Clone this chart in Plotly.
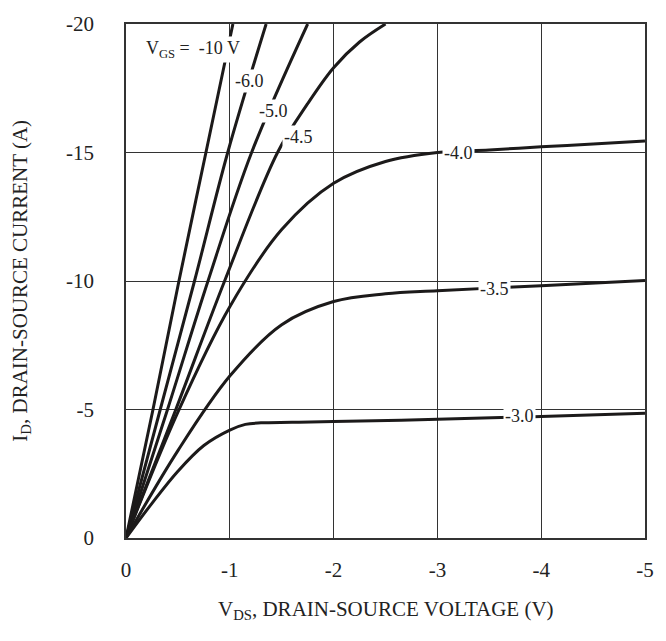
import plotly.graph_objects as go

# ---- data (V_DS in volts, I_D in amps) ----
vgs_labels = ["-10 V", "-6.0", "-5.0", "-4.5", "-4.0", "-3.5", "-3.0"]

v_m10 = [0, -0.26, -0.51, -0.77, -1.03]
i_m10 = [0, -5, -10, -15, -20]

v_m6 = [0, -0.33, -0.66, -0.98, -1.35]
i_m6 = [0, -5, -10, -15, -20]

v_m5 = [0, -0.40, -0.79, -1.21, -1.75]
i_m5 = [0, -5, -10, -15, -20]

v_m45 = [0, -0.48, -0.95, -1.46, -1.75, -2.0, -2.25, -2.5]
i_m45 = [0, -5, -10, -15, -16.9, -18.3, -19.3, -20]

v_m40 = [0, -0.5, -1.0, -1.5, -2.0, -2.5, -3.0, -3.5, -4.0, -4.5, -5.0]
i_m40 = [0, -4.9, -9.0, -12.0, -13.8, -14.65, -15.0, -15.1, -15.22, -15.33, -15.45]

v_m35 = [0, -0.5, -1.0, -1.5, -2.0, -2.5, -3.0, -4.0, -5.0]
i_m35 = [0, -3.4, -6.3, -8.3, -9.2, -9.5, -9.62, -9.82, -10.02]

v_m30 = [0, -0.25, -0.5, -0.75, -1.0, -1.15, -1.3, -1.6, -2.0, -3.0, -4.0, -5.0]
i_m30 = [0, -1.35, -2.6, -3.6, -4.2, -4.42, -4.48, -4.5, -4.53, -4.62, -4.73, -4.85]

x_ticks = [0, -1, -2, -3, -4, -5]
x_ticktext = ["0", "-1", "-2", "-3", "-4", "-5"]
y_ticks = [0, -5, -10, -15, -20]
y_ticktext = ["0", "-5", "-10", "-15", "-20"]

# label anchor points (V_DS, I_D) on each curve
label_v = [-0.65, -1.19, -1.42, -1.66, -3.2, -3.55, -3.79]
label_i = [-19.0, -17.8, -16.6, -15.6, -15.0, -9.7, -4.75]

curves = [(v_m10, i_m10), (v_m6, i_m6), (v_m5, i_m5), (v_m45, i_m45),
          (v_m40, i_m40), (v_m35, i_m35), (v_m30, i_m30)]

FONT = "Liberation Serif, Times New Roman, serif"
INK = "#1c1a1a"

fig = go.Figure()
for (vx, iy) in curves:
    fig.add_trace(go.Scatter(
        x=vx, y=iy, mode="lines",
        line=dict(color=INK, width=3, shape="spline", smoothing=1.0),
        showlegend=False, hoverinfo="skip"))

texts = ["V<sub>GS</sub> =  -10 V"] + vgs_labels[1:]
for k, t in enumerate(texts):
    fig.add_annotation(
        x=label_v[k], y=label_i[k], text=t, showarrow=False,
        font=dict(family=FONT, size=18, color="#222"),
        bgcolor="white", borderpad=1)

fig.update_xaxes(
    range=[0, -5], tickvals=x_ticks, ticktext=x_ticktext,
    showgrid=True, gridcolor="#333", gridwidth=1.3,
    showline=True, linecolor="#333", linewidth=1.5, mirror=True,
    zeroline=False, ticks="", ticklabelstandoff=12,
    tickfont=dict(family=FONT, size=21, color="#222"))
fig.update_yaxes(
    range=[0, -20], tickvals=y_ticks, ticktext=y_ticktext,
    showgrid=True, gridcolor="#333", gridwidth=1.3,
    showline=True, linecolor="#333", linewidth=1.5, mirror=True,
    zeroline=False, ticks="", ticklabelstandoff=26,
    tickfont=dict(family=FONT, size=21, color="#222"))

fig.add_annotation(
    xref="paper", yref="paper", x=0.5, y=-0.141, xanchor="center", yanchor="middle",
    text="V<sub>DS</sub>, DRAIN-SOURCE VOLTAGE (V)", showarrow=False,
    font=dict(family=FONT, size=21, color="#222"))
fig.add_annotation(
    xref="paper", yref="paper", x=-0.203, y=0.5, xanchor="center", yanchor="middle",
    textangle=-90,
    text="I<sub>D</sub>, DRAIN-SOURCE CURRENT (A)", showarrow=False,
    font=dict(family=FONT, size=21, color="#222"))

fig.update_layout(
    width=666, height=641,
    margin=dict(l=126, r=18, t=13, b=103),
    paper_bgcolor="white", plot_bgcolor="white",
)

fig.write_html("out.html")
